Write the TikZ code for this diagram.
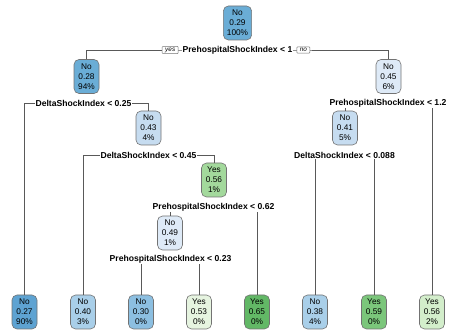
\documentclass[tikz,border=0pt]{standalone}
\usepackage{fontspec}
\setmainfont{Liberation Sans}
\usetikzlibrary{positioning}
\begin{document}
\begin{tikzpicture}[x=1pt,y=1pt,
  leafbox/.style={draw=black!55, line width=0.6pt, rounded corners=5pt, align=center,
    font=\fontsize{8.3}{10}\selectfont, inner xsep=3.5pt, inner ysep=2pt,
    minimum width=25pt, minimum height=34pt},
  splitlab/.style={fill=white, inner sep=1pt, font=\bfseries\fontsize{8.6}{10}\selectfont},
  yn/.style={draw=black!55, fill=white, line width=0.5pt, rounded corners=0.8pt,
    inner xsep=3pt, inner ysep=1.3pt, font=\itshape\fontsize{6.4}{7}\selectfont},
  conn/.style={draw=black!65, line width=0.6pt}
]
\definecolor{bA}{HTML}{6AADD6}
\definecolor{bA2}{HTML}{5EA3D2}
\definecolor{bB}{HTML}{A9CFE9}
\definecolor{bB2}{HTML}{8CBFE1}
\definecolor{bC}{HTML}{C6DCF0}
\definecolor{bD}{HTML}{DEEAF7}
\definecolor{gA}{HTML}{A3D99C}
\definecolor{gB}{HTML}{E6F4E0}
\definecolor{gC}{HTML}{62B866}
\definecolor{gD}{HTML}{7BC67B}
\definecolor{gE}{HTML}{D3EECB}
\useasboundingbox (0,0) rectangle (451,332);

% internal nodes
\node[leafbox, fill=bA] (n1) at (237.5,309) {No\\0.29\\100\%};
\node[leafbox, fill=bA] (n2) at (86.5,255.5) {No\\0.28\\94\%};
\node[leafbox, fill=bD] (n3) at (388.5,255.5) {No\\0.45\\6\%};
\node[leafbox, fill=bC] (n4) at (148.5,204) {No\\0.43\\4\%};
\node[leafbox, fill=bC] (n5) at (345,204) {No\\0.41\\5\%};
\node[leafbox, fill=gA] (n6) at (214,152) {Yes\\0.56\\1\%};
\node[leafbox, fill=bD] (n7) at (170,99) {No\\0.49\\1\%};

% leaves
\node[leafbox, fill=bA2] (l1) at (24.5,20) {No\\0.27\\90\%};
\node[leafbox, fill=bB] (l2) at (83,20) {No\\0.40\\3\%};
\node[leafbox, fill=bB2] (l3) at (141,20) {No\\0.30\\0\%};
\node[leafbox, fill=gB] (l4) at (199,20) {Yes\\0.53\\0\%};
\node[leafbox, fill=gC] (l5) at (257,20) {Yes\\0.65\\0\%};
\node[leafbox, fill=bB] (l6) at (315,20) {No\\0.38\\4\%};
\node[leafbox, fill=gD] (l7) at (374,20) {Yes\\0.59\\0\%};
\node[leafbox, fill=gE] (l8) at (432,20) {Yes\\0.56\\2\%};

% split coordinates
\coordinate (s1) at (237.5,282);
\coordinate (s2) at (83.5,229);
\coordinate (s3) at (388,229);
\coordinate (s4) at (148.5,177);
\coordinate (s5) at (344.5,177);
\coordinate (s6) at (213.5,125);
\coordinate (s7) at (170.5,73);

% connectors (behind labels)
\draw[conn] (n2.north) |- (s1) -| (n3.north);
\draw[conn] (l1.north) |- (s2) -| (n4.north);
\draw[conn] (n5.north) |- (s3) -| (l8.north);
\draw[conn] (l2.north) |- (s4) -| (n6.north);
\draw[conn] (l6.north) |- (s5) -| (l7.north);
\draw[conn] (n7.north) |- (s6) -| (l5.north);
\draw[conn] (l3.north) |- (s7) -| (l4.north);

% split labels
\node[splitlab] (t1) at (s1) {PrehospitalShockIndex < 1};
\node[yn, left=3pt of t1] (yes) {yes};
\node[yn, right=3pt of t1] (no) {no};
\node[splitlab] (t2) at (s2) {DeltaShockIndex < 0.25};
\node[splitlab] (t3) at (s3) {PrehospitalShockIndex < 1.2};
\node[splitlab] (t4) at (s4) {DeltaShockIndex < 0.45};
\node[splitlab] (t5) at (s5) {DeltaShockIndex < 0.088};
\node[splitlab] (t6) at (s6) {PrehospitalShockIndex < 0.62};
\node[splitlab] (t7) at (s7) {PrehospitalShockIndex < 0.23};
\end{tikzpicture}
\end{document}
